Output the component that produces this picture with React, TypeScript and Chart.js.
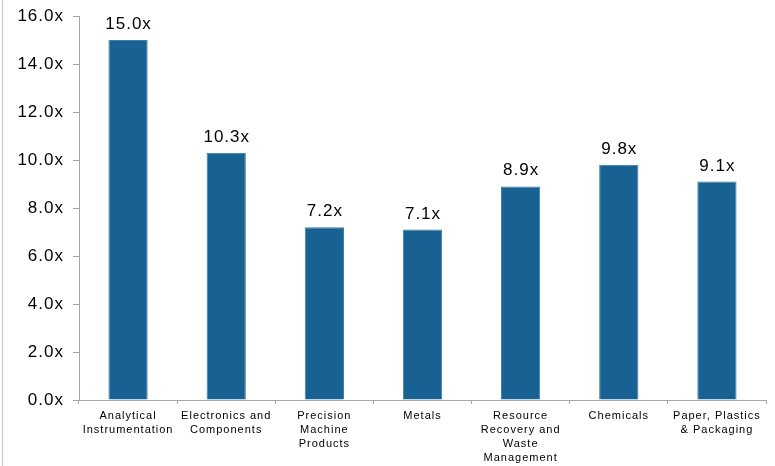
import React, { useEffect, useRef } from "react";
import { Chart, registerables } from "chart.js";

Chart.register(...registerables);

const categories: (string | string[])[] = [
  ["Analytical", "Instrumentation"],
  ["Electronics and", "Components"],
  ["Precision", "Machine", "Products"],
  "Metals",
  ["Resource", "Recovery and", "Waste", "Management"],
  "Chemicals",
  ["Paper, Plastics", "& Packaging"],
];
const multiples: number[] = [15.0, 10.3, 7.2, 7.1, 8.9, 9.8, 9.1];
const yMin = 0;
const yMax = 16;
const yStep = 2;

const BAR_COLOR = "#176292";
const AXIS_COLOR = "#a6a6a6";
const TEXT_COLOR = "#000000";
const FONT_FAMILY = "'Liberation Sans', Arial, sans-serif";

const spacingPlugin = {
  id: "spacing",
  beforeUpdate(chart: any) {
    (chart.ctx as any).letterSpacing = "1px";
  },
  beforeLayout(chart: any) {
    (chart.ctx as any).letterSpacing = "1px";
  },
  beforeDraw(chart: any) {
    const ctx = chart.ctx;
    (ctx as any).letterSpacing = "1px";
    ctx.save();
    ctx.fillStyle = "#c4c4c4";
    ctx.fillRect(2, 0, 1, chart.height);
    ctx.restore();
  },
};

const labelPlugin = {
  id: "barLabels",
  afterDatasetsDraw(chart: any) {
    const ctx = chart.ctx;
    const meta = chart.getDatasetMeta(0);
    ctx.save();
    (ctx as any).letterSpacing = "1px";
    ctx.font = `17px ${FONT_FAMILY}`;
    ctx.fillStyle = TEXT_COLOR;
    ctx.textAlign = "center";
    ctx.textBaseline = "alphabetic";
    meta.data.forEach((bar: any, i: number) => {
      const v = multiples[i];
      ctx.fillText(`${v.toFixed(1)}x`, bar.x + 0.5, bar.y - 11);
    });
    ctx.restore();
  },
};

export default function App() {
  const canvasRef = useRef<HTMLCanvasElement | null>(null);

  useEffect(() => {
    const canvas = canvasRef.current;
    if (!canvas) return;
    const chart = new Chart(canvas, {
      type: "bar",
      data: {
        labels: categories,
        datasets: [
          {
            data: multiples,
            backgroundColor: BAR_COLOR,
            borderColor: "#3f7ca6",
            borderWidth: 1,
            categoryPercentage: 1,
            barPercentage: 0.4,
          },
        ],
      },
      options: {
        animation: false,
        responsive: false,
        maintainAspectRatio: false,
        devicePixelRatio: 1,
        layout: { autoPadding: false, padding: { top: 16, right: 9, left: 0, bottom: 0 } },
        plugins: {
          legend: { display: false },
          tooltip: { enabled: false },
        },
        scales: {
          x: {
            offset: true,
            grid: {
              offset: true,
              drawOnChartArea: false,
              drawTicks: true,
              tickLength: 4,
              color: AXIS_COLOR,
            },
            border: { display: true, color: AXIS_COLOR, width: 1 },
            ticks: {
              color: TEXT_COLOR,
              font: { family: FONT_FAMILY, size: 11, lineHeight: "14px" } as any,
              padding: 5,
              maxRotation: 0,
              minRotation: 0,
              autoSkip: false,
            },
            afterFit(scale: any) {
              scale.height = 66;
              scale.paddingLeft = 0;
              scale.paddingRight = 0;
            },
          },
          y: {
            min: yMin,
            max: yMax,
            grid: {
              drawOnChartArea: false,
              drawTicks: true,
              tickLength: 6,
              color: AXIS_COLOR,
            },
            border: { display: true, color: AXIS_COLOR, width: 1 },
            ticks: {
              stepSize: yStep,
              color: TEXT_COLOR,
              font: { family: FONT_FAMILY, size: 17 },
              padding: 9,
              callback: (v: any) => `${Number(v).toFixed(1)}x`,
            },
            afterFit(scale: any) {
              scale.width = 79;
              scale.paddingTop = 0;
              scale.paddingBottom = 0;
            },
          },
        },
      },
      plugins: [spacingPlugin, labelPlugin],
    });
    return () => chart.destroy();
  }, []);

  return (
    <div
      style={{
        position: "fixed",
        left: 0,
        top: 0,
        width: 775,
        height: 466,
        background: "#ffffff",
      }}
    >
      <canvas ref={canvasRef} width={775} height={466} style={{ width: 775, height: 466, display: "block" }} />
    </div>
  );
}
